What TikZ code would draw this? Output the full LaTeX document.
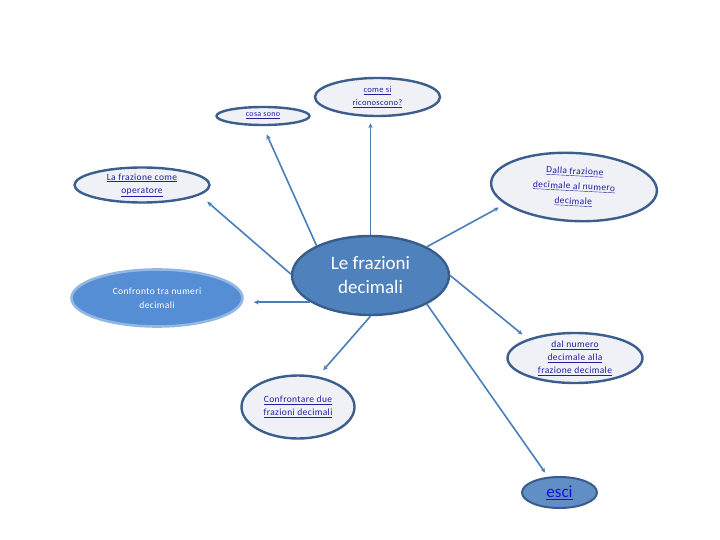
\documentclass[tikz,border=0pt]{standalone}
\usepackage{fontspec}
\setmainfont{Carlito}
\usetikzlibrary{arrows.meta,shapes.geometric}
\definecolor{bordo}{HTML}{3B5E8C}
\definecolor{fondo}{HTML}{EFF1F6}
\definecolor{blu}{HTML}{4F81BD}
\definecolor{blubordo}{HTML}{385D8A}
\definecolor{chiaro}{HTML}{558ED5}
\definecolor{chiarobordo}{HTML}{93B7E3}
\definecolor{linea}{HTML}{4A7EBB}
\definecolor{link}{HTML}{2020A0}
\definecolor{linkb}{HTML}{1414D2}
\newcommand{\lnk}[1]{\underline{#1}}
\tikzset{
  outer/.style={ellipse,draw=bordo,line width=2.4pt,fill=fondo,inner sep=0pt,
    align=center,text=link,font=\fontsize{9.5}{13}\selectfont\addfontfeature{LetterSpace=4}},
  conn/.style={draw=linea,line width=1.6pt,-{Stealth[length=5pt,width=4.5pt]}}
}
\begin{document}
\begin{tikzpicture}[x=1pt,y=-1pt]
\useasboundingbox (0,0) rectangle (720,540);
% central node
\node[ellipse,draw=blubordo,line width=2.4pt,fill=blu,inner sep=0pt,
  minimum width=157pt,minimum height=79pt,align=center,text=white,
  font=\fontsize{19}{24}\selectfont] (c) at (370.5,275.5) {Le frazioni\\decimali};
% outer nodes
\node[outer,minimum width=93pt,minimum height=18pt,font=\fontsize{8}{10}\selectfont\addfontfeature{LetterSpace=4}] (cs) at (263,116) {\lnk{cosa sono}};
\node[outer,minimum width=125pt,minimum height=38pt,font=\fontsize{8.5}{13}\selectfont\addfontfeature{LetterSpace=4}] (cr) at (377.5,97) {\lnk{come si}\\\lnk{riconoscono?}};
\node[outer,minimum width=135pt,minimum height=35pt] (lf) at (142,185) {\lnk{La frazione come}\\\lnk{operatore}};
\node[outer,minimum width=166pt,minimum height=68pt,rotate=-3,
  font=\fontsize{9.5}{15}\selectfont\addfontfeature{LetterSpace=4}] (d) at (574,187) {\lnk{Dalla frazione}\\\lnk{decimale al numero}\\\lnk{decimale}};
\node[ellipse,draw=chiarobordo,line width=2.6pt,fill=chiaro,inner sep=0pt,
  minimum width=171pt,minimum height=57pt,align=center,text=white,
  font=\fontsize{9.5}{14}\selectfont\addfontfeature{LetterSpace=4}] (ct) at (157,298) {Confronto tra numeri\\decimali};
\node[outer,minimum width=135pt,minimum height=50pt] (dn) at (575,358) {\lnk{dal numero}\\\lnk{decimale alla}\\\lnk{frazione decimale}};
\node[outer,minimum width=113pt,minimum height=63pt] (cf) at (298,407) {\lnk{Confrontare due}\\\lnk{frazioni decimali}};
\node[ellipse,draw=blubordo,line width=2pt,fill=blu!90!white,inner sep=0pt,
  minimum width=75pt,minimum height=31pt,text=linkb,
  font=\fontsize{17}{20}\selectfont] (es) at (559.5,492.5) {\lnk{esci}};
% connectors
\draw[conn,shorten >=9pt] (c.151) -- (cs.south);
\draw[conn,shorten >=6pt] (c.north) -- (c.north |- cr.south);
\draw[conn,shorten >=10pt] (c.179) -- (lf.-10);
\draw[conn,shorten >=7pt] (c.27) -- (d.197);
\draw[conn,shorten >=10pt] (c.204) -- (c.204 -| ct.east);
\draw[conn,shorten >=7pt] (c.0) -- (dn.158);
\draw[conn,shorten >=8pt] (c.270) -- (cf.57);
\draw[conn,shorten >=5pt] (c.333) -- (es.126);
\end{tikzpicture}
\end{document}
